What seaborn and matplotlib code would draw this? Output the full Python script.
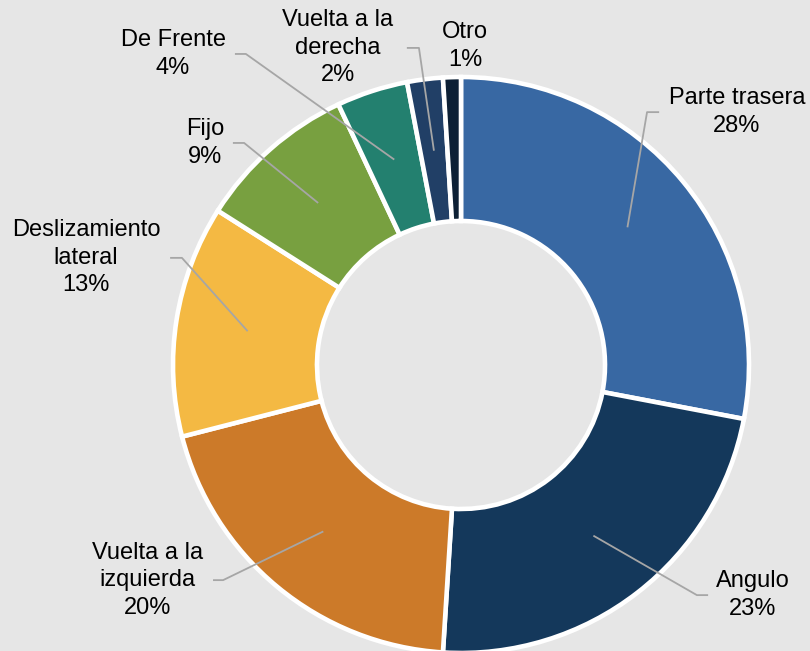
import matplotlib
matplotlib.use("Agg")
import matplotlib.pyplot as plt
import seaborn as sns
import numpy as np

# ---- data ----
categories = ["Parte trasera", "Angulo", "Vuelta a la\nizquierda", "Deslizamiento\nlateral",
              "Fijo", "De Frente", "Vuelta a la\nderecha", "Otro"]
values = [28, 23, 20, 13, 9, 4, 2, 1]
hex_colors = ["#3868a3", "#14385b", "#cc7a29", "#f4b943", "#78a040", "#23806f", "#213f66", "#0d2035"]

# ---- layout (data units, pie radius = 1) ----
label_pos = [(0.958, 0.878), (1.014, -0.799), (-1.090, -0.747), (-1.302, 0.372),
             (-0.889, 0.771), (-1.000, 1.080), (-0.427, 1.101), (0.014, 1.108)]
elbow_x = [(0.646, 0.688), (0.819, 0.858), (-0.826, -0.861), (-0.969, -1.010),
           (-0.753, -0.792), (-0.747, -0.785), (-0.146, -0.188), None]

sns.set_theme(style="white")
plt.rcParams["font.family"] = ["Liberation Sans", "DejaVu Sans"]

bg = "#e6e6e6"
fig = plt.figure(figsize=(8.1, 6.51), dpi=100, facecolor=bg)
ax = fig.add_axes([0, 0, 1, 1])
ax.set_facecolor(bg)

palette = sns.color_palette(hex_colors)
wedges, _ = ax.pie(values, colors=palette, startangle=90, counterclock=False,
                   radius=1.0, wedgeprops=dict(width=0.5, edgecolor="white", linewidth=3.3))

total = sum(values)
cum = np.cumsum([0] + values)
for i, (cat, v) in enumerate(zip(categories, values)):
    pct = f"{round(100 * v / total)}%"
    tx, ty = label_pos[i]
    ax.text(tx, ty, f"{cat}\n{pct}", ha="center", va="center", multialignment="center",
            fontsize=17, color="#000000", linespacing=1.32)
    if elbow_x[i] is not None:
        mid = (cum[i] + v / 2) / total * 2 * np.pi
        ang = np.pi / 2 - mid
        r = 0.75
        axp, ayp = r * np.cos(ang), r * np.sin(ang)
        cx, ex = elbow_x[i]
        ax.plot([axp, cx, ex], [ayp, ty, ty], color="#a6a6a6", lw=1.3, solid_capstyle="butt")

ax.set_xlim(-461 / 288, (810 - 461) / 288)
ax.set_ylim(-(651 - 365) / 288, 365 / 288)
ax.set_aspect("equal")
ax.axis("off")

fig.savefig("out.png", dpi=100, facecolor=bg)
